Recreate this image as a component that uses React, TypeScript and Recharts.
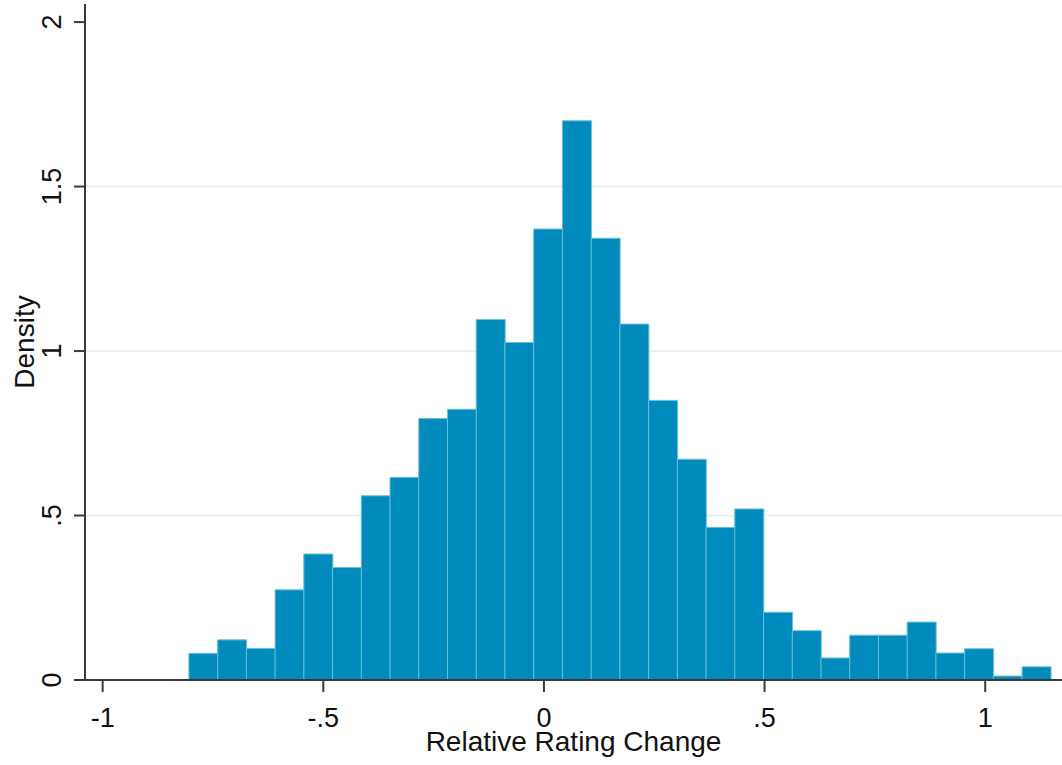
import React from "react";
import { ComposedChart, Bar, XAxis, YAxis, CartesianGrid } from "recharts";

// Histogram bin centers (Relative Rating Change)
const binCenters = [
  -0.772, -0.7068, -0.6418, -0.5767, -0.5116, -0.4465, -0.3814, -0.3163, -0.2512, -0.1861,
  -0.121, -0.0559, 0.0093, 0.0744, 0.1395, 0.2046, 0.2697, 0.3348, 0.3999, 0.465,
  0.5301, 0.5952, 0.6603, 0.7254, 0.7905, 0.8556, 0.9207, 0.9858, 1.0509, 1.116,
];
// Density per bin
const densities = [
  0.081, 0.122, 0.096, 0.274, 0.383, 0.342, 0.56, 0.616, 0.795, 0.823,
  1.096, 1.026, 1.371, 1.7, 1.343, 1.082, 0.85, 0.671, 0.464, 0.52,
  0.206, 0.15, 0.067, 0.136, 0.136, 0.176, 0.082, 0.095, 0.012, 0.04,
];
const xTicks = [-1, -0.5, 0, 0.5, 1];
const yTicks = [0, 0.5, 1, 1.5, 2];
const gridValues = [0.5, 1, 1.5];

const data = binCenters.map((mid, i) => ({ mid, density: densities[i] }));

const fmt = (v: number) => {
  if (v === 0) return "0";
  const s = String(v);
  return s.replace(/^(-?)0\./, "$1.");
};

const FONT = "'Liberation Sans', Arial, sans-serif";
const AXIS = "#3a3a3a";

const YTick = (props: any) => {
  const { x, y, payload } = props;
  const cx = x - 11;
  return (
    <text
      x={cx}
      y={y}
      transform={`rotate(-90 ${cx} ${y})`}
      textAnchor="middle"
      fontSize={27}
      fontFamily={FONT}
      fill="#111"
    >
      {fmt(payload.value)}
    </text>
  );
};

const XTick = (props: any) => {
  const { x, y, payload } = props;
  return (
    <text x={x} y={y + 33} textAnchor="middle" fontSize={27} fontFamily={FONT} fill="#111">
      {fmt(payload.value)}
    </text>
  );
};

export default function App() {
  return (
    <div style={{ position: "absolute", left: 0, top: 0, background: "#fff" }}>
      <ComposedChart
        width={1062}
        height={765}
        data={data}
        margin={{ top: 4, right: 0, bottom: 0, left: 0 }}
        barCategoryGap={0}
        barGap={0}
      >
        <CartesianGrid
          vertical={false}
          horizontalValues={gridValues}
          stroke="#e7eff1"
          strokeWidth={2}
        />
        <XAxis
          dataKey="mid"
          type="number"
          domain={[-1.04, 1.174]}
          ticks={xTicks}
          allowDataOverflow
          height={85}
          tick={<XTick />}
          tickLine={{ stroke: AXIS, strokeWidth: 2 }}
          tickSize={12}
          axisLine={{ stroke: AXIS, strokeWidth: 2 }}
          label={{
            value: "Relative Rating Change",
            position: "insideBottom",
            offset: 14,
            fontSize: 28,
            fontFamily: FONT,
            fill: "#111",
          }}
        />
        <YAxis
          type="number"
          domain={[0, 2.055]}
          ticks={yTicks}
          allowDataOverflow
          width={85}
          tick={<YTick />}
          tickLine={{ stroke: AXIS, strokeWidth: 2 }}
          tickSize={11}
          axisLine={{ stroke: AXIS, strokeWidth: 2 }}
          label={{
            value: "Density",
            angle: -90,
            position: "insideLeft",
            offset: 24,
            fontSize: 28,
            fontFamily: FONT,
            fill: "#111",
            style: { textAnchor: "middle" },
          }}
        />
        <Bar
          dataKey="density"
          fill="#008bbc"
          stroke="#6cbfdd"
          strokeWidth={1}
          isAnimationActive={false}
        />
      </ComposedChart>
    </div>
  );
}
